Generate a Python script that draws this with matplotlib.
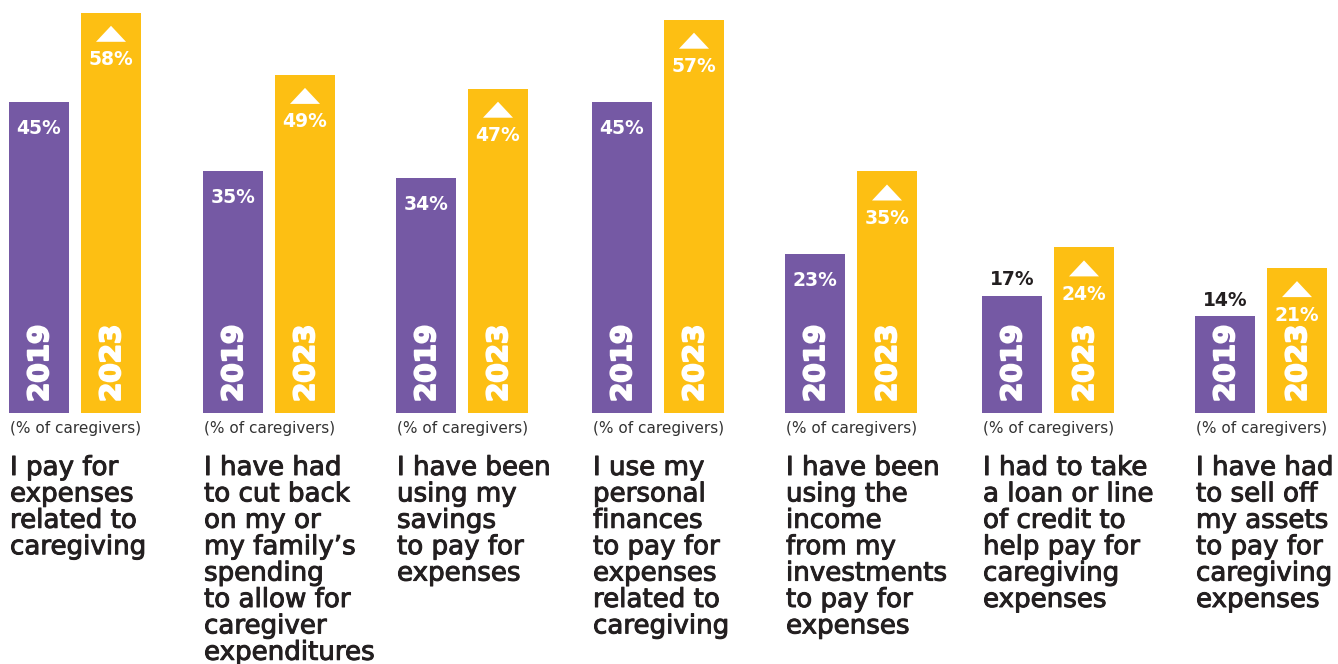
import matplotlib
matplotlib.use("Agg")
import matplotlib.pyplot as plt
import matplotlib.patheffects as pe
from matplotlib.patches import Polygon

# Survey results: share of caregivers, 2019 vs 2023
statements = [
    "I pay for\nexpenses\nrelated to\ncaregiving",
    "I have had\nto cut back\non my or\nmy family\u2019s\nspending\nto allow for\ncaregiver\nexpenditures",
    "I have been\nusing my\nsavings\nto pay for\nexpenses",
    "I use my\npersonal\nfinances\nto pay for\nexpenses\nrelated to\ncaregiving",
    "I have been\nusing the\nincome\nfrom my\ninvestments\nto pay for\nexpenses",
    "I had to take\na loan or line\nof credit to\nhelp pay for\ncaregiving\nexpenses",
    "I have had\nto sell off\nmy assets\nto pay for\ncaregiving\nexpenses",
]
years = ["2019", "2023"]
share_2019 = [45, 35, 34, 45, 23, 17, 14]
share_2023 = [58, 49, 47, 57, 35, 24, 21]
unit_note = "(% of caregivers)"

# Layout (pixels on a 1338 x 664 canvas)
W, H = 1338, 664
BASE = 413          # pixel row of the bar baseline
PX_PER_PCT = 6.9    # vertical scale
group_left = [9, 203, 396, 592, 785, 982, 1195]
BAR_W = 60
BAR_GAP = 12

PURPLE = "#7559a4"
YELLOW = "#fdbf13"
DARK = "#231f20"
FONT = "DejaVu Sans"

fig = plt.figure(figsize=(W / 100, H / 100), dpi=100)
ax = fig.add_axes([0, 0, 1, 1])
ax.set_xlim(0, W)
ax.set_ylim(-(H - BASE) / PX_PER_PCT, BASE / PX_PER_PCT)
ax.axis("off")


def py(px_row):
    """Convert a pixel row (from top) to a data y value."""
    return (BASE - px_row) / PX_PER_PCT


def pxlen(n):
    return n / PX_PER_PCT


medium = [pe.withStroke(linewidth=0.7, foreground=DARK)]
heavy_white = [pe.withStroke(linewidth=1.4, foreground="white")]

for i, left in enumerate(group_left):
    v19, v23 = share_2019[i], share_2023[i]
    x19 = left + BAR_W / 2
    x23 = left + BAR_W + BAR_GAP + BAR_W / 2
    ax.bar(x19, v19, width=BAR_W, color=PURPLE, linewidth=0)
    ax.bar(x23, v23, width=BAR_W, color=YELLOW, linewidth=0)

    # year labels, rotated inside the bars
    for xc, yr in ((x19, years[0]), (x23, years[1])):
        ax.text(xc + 1, pxlen(11), yr, rotation=90, ha="center", va="bottom",
                color="white", fontsize=20, fontweight="bold", family=FONT,
                path_effects=heavy_white)

    # 2019 value: inside the bar when tall enough, otherwise above it
    if v19 >= 20:
        ax.text(x19, v19 - pxlen(26), f"{v19}%", ha="center", va="center",
                color="white", fontsize=13.5, fontweight="bold", family=FONT)
    else:
        ax.text(x19, v19 + pxlen(16), f"{v19}%", ha="center", va="center",
                color=DARK, fontsize=13.5, fontweight="bold", family=FONT)

    # 2023 value with an up-arrow marker
    top = v23 - pxlen(13)
    tri = Polygon([(x23 - 15, top - pxlen(16)), (x23 + 15, top - pxlen(16)),
                   (x23, top)], closed=True, color="white", linewidth=0)
    ax.add_patch(tri)
    ax.text(x23, v23 - pxlen(47), f"{v23}%", ha="center", va="center",
            color="white", fontsize=13.5, fontweight="bold", family=FONT)

    # unit note and statement text below the bars
    ax.text(left + 1, py(428), unit_note, ha="left", va="center",
            color="#333333", fontsize=11, family=FONT)
    ax.text(left + 1, py(455), statements[i], ha="left", va="top",
            color=DARK, fontsize=18.8, family=FONT, linespacing=1.02,
            path_effects=medium)

fig.savefig("out.png", dpi=100)
